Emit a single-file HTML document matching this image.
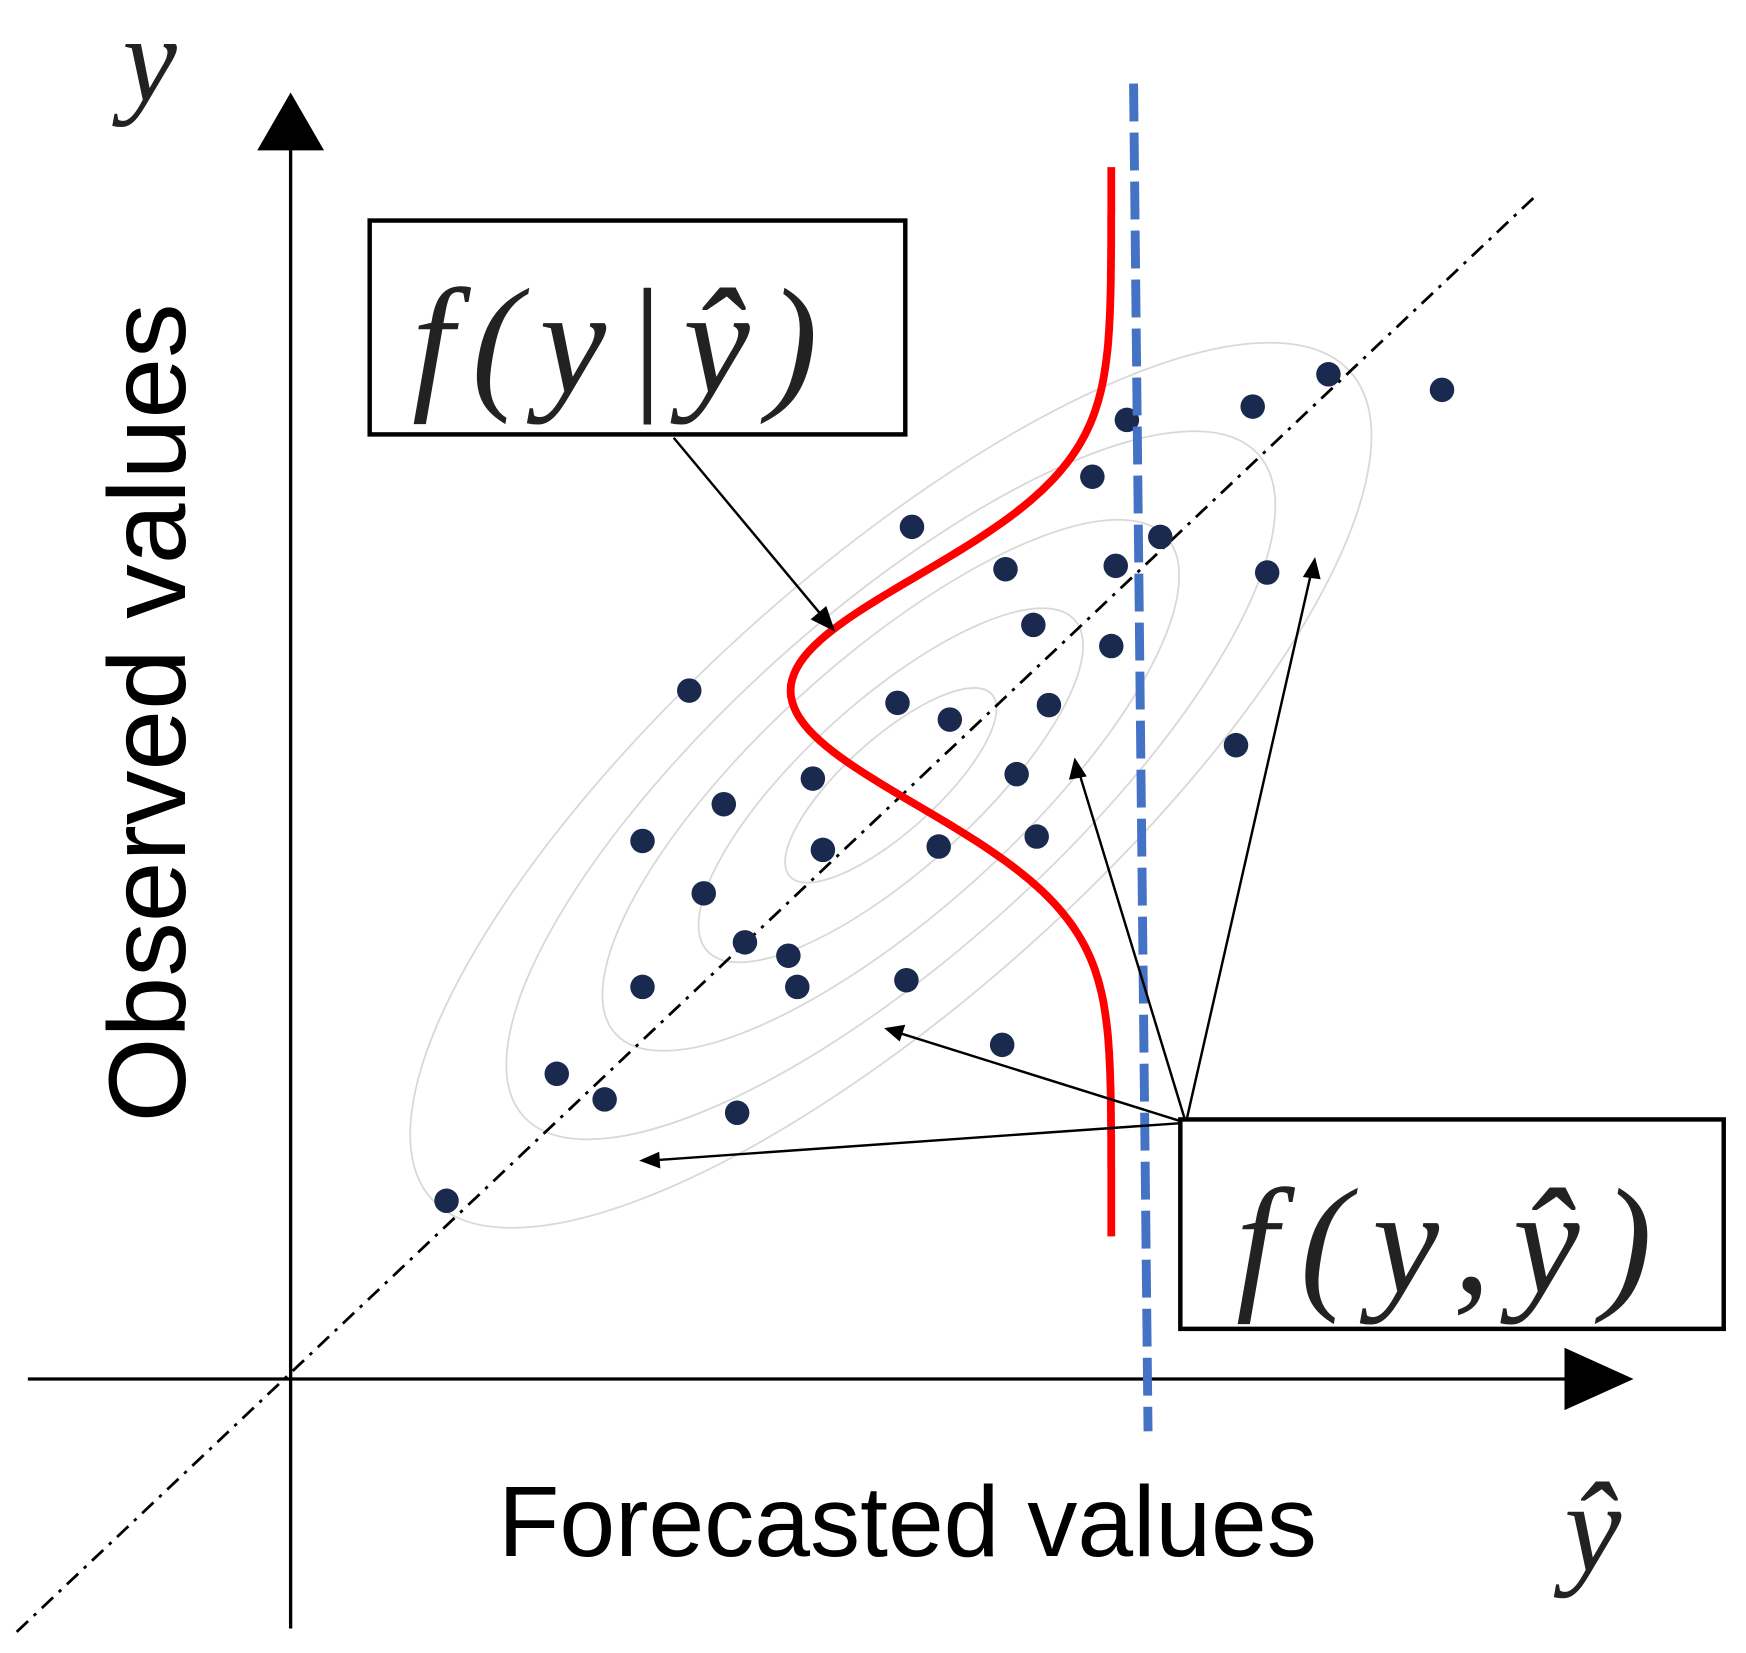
<!DOCTYPE html>
<html><head><meta charset="utf-8"><style>html,body{margin:0;padding:0;background:#fff;overflow:hidden}svg{display:block}</style></head>
<body>
<svg id="chart" width="1746" height="1653" viewBox="0 0 1568 1484" preserveAspectRatio="none" xmlns="http://www.w3.org/2000/svg">
<g id="ellipses"></g>
<line x1="15" y1="1465" x2="1380" y2="175" stroke="#000" stroke-width="2.5" stroke-dasharray="14,7,3,7"/>
<line x1="261" y1="1462" x2="261" y2="120" stroke="#000" stroke-width="3"/>
<polygon points="261,83 231,135 291,135" fill="#000"/>
<line x1="25" y1="1238" x2="1420" y2="1238" stroke="#000" stroke-width="3"/>
<polygon points="1467,1238 1405,1210 1405,1266" fill="#000"/>
<g id="points"></g>
<line x1="1018" y1="75" x2="1031" y2="1285" stroke="#4472C4" stroke-width="8" stroke-dasharray="34,10"/>
<path id="redcurve" fill="none" stroke="#f00" stroke-width="7"/>
<g stroke="#000" stroke-width="2.2" fill="none">
<line x1="605" y1="393" x2="740" y2="555"/>
<line x1="1065" y1="1008" x2="968" y2="690"/>
<line x1="1065" y1="1008" x2="1178" y2="512"/>
<line x1="1065" y1="1008" x2="800" y2="925"/>
<line x1="1065" y1="1008" x2="582" y2="1042"/>
</g>
<g fill="#000">
<polygon points="750,567 728,556 742,544"/>
<polygon points="965,680 960,700 976,697"/>
<polygon points="1181,500 1170,518 1186,520"/>
<polygon points="794,923 813,920 808,935"/>
<polygon points="574,1042 592,1034 593,1049"/>
</g>
<rect x="332" y="198" width="481" height="192" fill="#fff" stroke="#000" stroke-width="4"/>
<text x="370" y="352" font-family="Liberation Serif, serif" font-style="italic" font-size="135" letter-spacing="16" fill="#222">f(y|ŷ)</text>
<rect x="1060" y="1005" width="488" height="188" fill="#fff" stroke="#000" stroke-width="4"/>
<text x="1110" y="1160" font-family="Liberation Serif, serif" font-style="italic" font-size="135" letter-spacing="20" fill="#222">f(y,ŷ)</text>
<text x="110" y="90" font-family="Liberation Serif, serif" font-style="italic" font-size="110" fill="#222">y</text>
<text transform="translate(166,640) rotate(-90)" text-anchor="middle" font-family="Liberation Sans, sans-serif" font-size="98" fill="#000">Observed  values</text>
<text x="815" y="1397" text-anchor="middle" font-family="Liberation Sans, sans-serif" font-size="90" fill="#000">Forecasted values</text>
<text x="1405" y="1410" font-family="Liberation Serif, serif" font-style="italic" font-size="115" fill="#222">ŷ</text>
</svg>
<script>
const forecastX = [9.32,10.34,8.64,7.51,7.20,5.58,7.81,6.42,7.41,8.77,6.67,7.37,3.58,5.45,5.92,6.81,8.49,6.52,4.69,3.89,3.16,4.78,5.82,6.70,3.71,4.08,4.47,3.16,4.55,5.53,6.39,2.39,2.82,4.01,1.40];
const observedY = [9.02,8.88,8.73,8.61,8.10,7.65,7.56,7.27,7.30,7.24,6.77,6.58,6.18,6.07,5.92,6.05,5.69,5.43,5.39,5.16,4.83,4.75,4.78,4.87,4.36,3.92,3.80,3.52,3.52,3.58,3.00,2.74,2.51,2.39,1.60];
const contourScales = [1,0.8,0.6,0.4,0.22];
const condMean = [6.18], condSd = [1.3];
const NS='http://www.w3.org/2000/svg';
const sx = v => 261 + v*100;
const sy = v => 1238 - v*100;
const pg = document.getElementById('points');
forecastX.forEach((x,i)=>{
  const c=document.createElementNS(NS,'circle');
  c.setAttribute('cx',sx(x));c.setAttribute('cy',sy(observedY[i]));c.setAttribute('r',11);c.setAttribute('fill','#1a2a4f');
  
  
  pg.appendChild(c);
});
const eg=document.getElementById('ellipses');
contourScales.forEach(s=>{
  const e=document.createElementNS(NS,'ellipse');
  e.setAttribute('cx',0);e.setAttribute('cy',0);e.setAttribute('rx',555*s);e.setAttribute('ry',190*s);
  e.setAttribute('transform','translate(800,705) rotate(-42)');
  e.setAttribute('fill','none');e.setAttribute('stroke','#d8d8d8');e.setAttribute('stroke-width','1.6');
  
  
  eg.appendChild(e);
});
let d='';
for(let py=150;py<=1110;py+=5){
  const v=(1238-py)/100;
  const z=(v-(1238-620)/100)/condSd[0];
  const x=998-288*Math.exp(-z*z/2*1.6);
  d+=(py===150?'M':'L')+x.toFixed(1)+','+py;
}
document.getElementById('redcurve').setAttribute('d',d);
</script>
</body></html>
